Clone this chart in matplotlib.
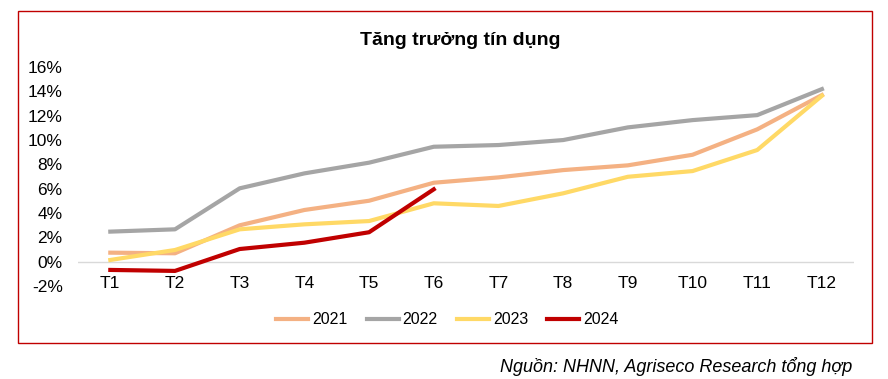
import matplotlib.pyplot as plt
from matplotlib.patches import Rectangle

plt.rcParams['font.family'] = ['Liberation Sans', 'DejaVu Sans']

months = ['T1', 'T2', 'T3', 'T4', 'T5', 'T6', 'T7', 'T8', 'T9', 'T10', 'T11', 'T12']
y2021 = [0.74, 0.69, 2.99, 4.25, 5.01, 6.49, 6.93, 7.53, 7.92, 8.79, 10.88, 13.70]
y2022 = [2.47, 2.66, 6.03, 7.26, 8.14, 9.45, 9.59, 10.00, 11.04, 11.64, 12.05, 14.19]
y2023 = [0.14, 0.96, 2.66, 3.07, 3.34, 4.80, 4.58, 5.62, 6.98, 7.45, 9.18, 13.64]
y2024 = [-0.68, -0.76, 1.04, 1.56, 2.42, 5.95]

fig = plt.figure(figsize=(8.88, 3.79), dpi=100)
ax = fig.add_axes([0.0878, 0.2454, 0.8742, 0.5776])

x = range(len(months))
ax.plot(x, y2021, color='#f4b183', lw=3, label='2021')
ax.plot(x, y2022, color='#a5a5a5', lw=3, label='2022')
ax.plot(x, y2023, color='#ffd966', lw=3, label='2023')
ax.plot(range(len(y2024)), y2024, color='#c00000', lw=3, label='2024')

ax.axhline(0, color='#d9d9d9', lw=1, zorder=0)
ax.set_xlim(-0.5, 11.5)
ax.set_ylim(-2, 16)
ax.set_yticks(range(-2, 17, 2))
ax.set_yticklabels([f'{v}%' for v in range(-2, 17, 2)])
ax.set_xticks(list(x))
ax.set_xticklabels(months)
ax.tick_params(length=0, labelsize=12.5)
ax.tick_params(axis='x', pad=-7)
ax.tick_params(axis='y', pad=11)
for s in ax.spines.values():
    s.set_visible(False)

fig.text(0.518, 0.892, 'Tăng trưởng tín dụng', ha='center', va='center',
         fontsize=14, fontweight='bold')

ax.legend(loc='center', bbox_to_anchor=(0.476, -0.155), ncol=4, frameon=False,
          fontsize=11.5, handlelength=2.0, columnspacing=1.2, handletextpad=0.25)

fig.patches.append(Rectangle((18 / 888, 1 - 343 / 379), 854 / 888, 332 / 379,
                             transform=fig.transFigure, fill=False,
                             edgecolor='#c00000', lw=1))

fig.text(852 / 888, 1 - 367 / 379, 'Nguồn: NHNN, Agriseco Research tổng hợp',
         ha='right', va='center', fontsize=13, style='italic')

fig.savefig('out.png', dpi=100)
